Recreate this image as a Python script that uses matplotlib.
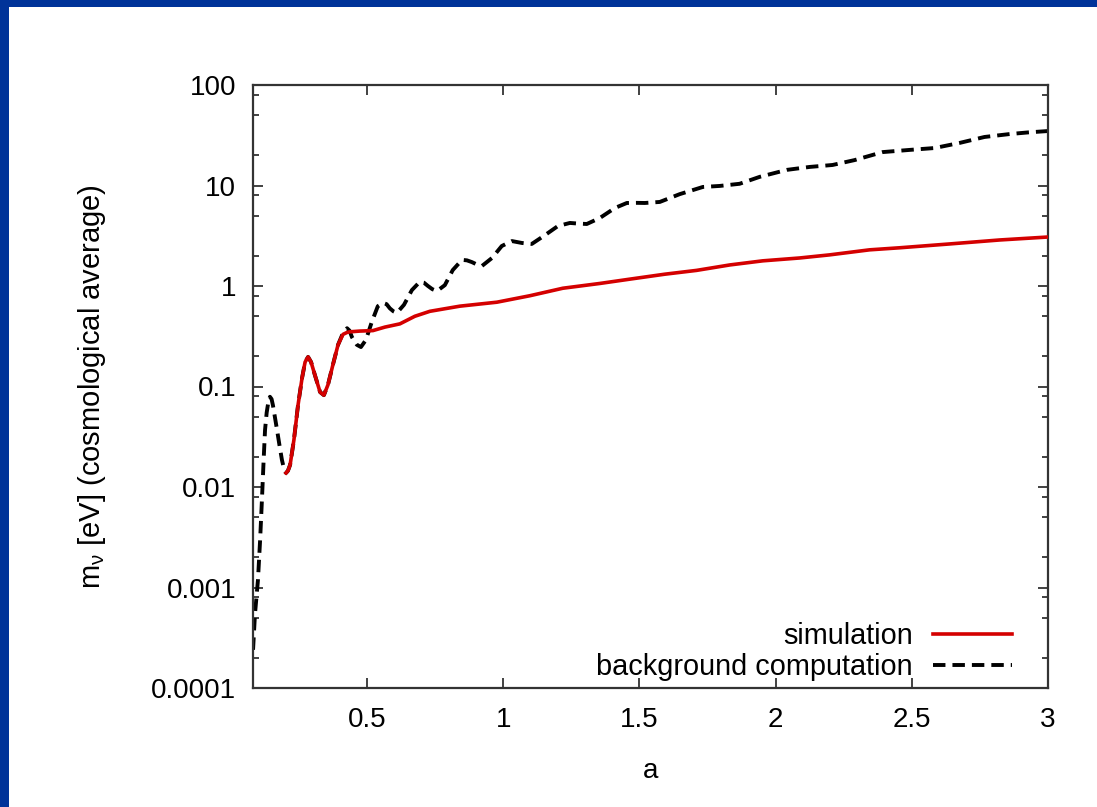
import matplotlib
matplotlib.use("Agg")
import matplotlib.pyplot as plt
from matplotlib.patches import Rectangle
from matplotlib.ticker import LogLocator, FixedLocator, NullFormatter, FixedFormatter

plt.rcParams['font.family'] = ['Liberation Sans', 'DejaVu Sans']
plt.rcParams['mathtext.fontset'] = 'custom'
plt.rcParams['mathtext.rm'] = 'Liberation Sans'
plt.rcParams['mathtext.it'] = 'Liberation Sans'
plt.rcParams['mathtext.sf'] = 'Liberation Sans'

# background computation (black dashed)
a_bg = [0.082, 0.089, 0.100, 0.108, 0.115, 0.121, 0.126, 0.132, 0.137, 0.144,
        0.150, 0.155, 0.162, 0.170, 0.179, 0.188, 0.196,
        0.203, 0.210, 0.218, 0.232, 0.247, 0.262, 0.273, 0.284, 0.295, 0.309, 0.328,
        0.342, 0.357, 0.375, 0.394, 0.412, 0.427, 0.436, 0.445, 0.463, 0.478, 0.496,
        0.518, 0.540, 0.559, 0.572, 0.584, 0.597, 0.610, 0.636, 0.665, 0.694, 0.709,
        0.724, 0.740, 0.757,
        0.786, 0.815, 0.849, 0.867, 0.885, 0.903, 0.922, 0.959, 0.995, 1.032, 1.069, 1.105,
        1.153, 1.201, 1.245, 1.275, 1.307, 1.355, 1.410, 1.454, 1.490, 1.520, 1.575, 1.648,
        1.733, 1.795, 1.868, 1.942, 2.041, 2.125, 2.209, 2.290, 2.393, 2.492,
        2.584, 2.675, 2.767, 2.859, 2.930, 2.998]
m_bg = [2.4e-4, 5.4e-4, 1.19e-3, 3.0e-3, 7.9e-3, 0.019, 0.037, 0.055, 0.067, 0.079,
        0.075, 0.065, 0.050, 0.037, 0.026, 0.0186, 0.0150,
        0.0138, 0.0145, 0.0166, 0.0294, 0.065, 0.122, 0.175, 0.197, 0.175, 0.13, 0.088,
        0.082, 0.104, 0.164, 0.26, 0.34, 0.38, 0.36, 0.31, 0.26, 0.247, 0.29,
        0.44, 0.63, 0.68, 0.66, 0.60, 0.56, 0.54, 0.65, 0.91, 1.10, 1.08,
        1.0, 0.93, 0.89,
        1.02, 1.44, 1.82, 1.80, 1.73, 1.64, 1.58, 1.90, 2.5, 2.8, 2.68, 2.62,
        3.2, 3.95, 4.24, 4.18, 4.14, 4.75, 5.97, 6.7, 6.72, 6.7, 6.86, 8.2,
        9.67, 9.9, 10.4, 12.2, 14.3, 15.3, 16.0, 17.9, 21.5, 22.6,
        23.6, 26.5, 30.4, 32.5, 33.8, 34.8]

# simulation (red solid)
a_sim = [0.203, 0.210, 0.218, 0.232, 0.247, 0.262, 0.273, 0.284, 0.295, 0.309, 0.328,
         0.342, 0.357, 0.375, 0.394, 0.412, 0.427, 0.437, 0.474, 0.522, 0.566,
         0.621, 0.676, 0.731, 0.841, 0.977, 1.098, 1.219, 1.355, 1.465, 1.593,
         1.710, 1.832, 1.953, 2.088, 2.198, 2.345, 2.455, 2.638, 2.822, 2.998]
m_sim = [0.0138, 0.0145, 0.0166, 0.0294, 0.065, 0.122, 0.175, 0.197, 0.175, 0.13, 0.088,
         0.082, 0.104, 0.164, 0.26, 0.33, 0.345, 0.35, 0.356, 0.36, 0.39,
         0.42, 0.50, 0.56, 0.63, 0.69, 0.80, 0.95, 1.06, 1.17, 1.31,
         1.43, 1.62, 1.78, 1.90, 2.04, 2.29, 2.40, 2.62, 2.87, 3.07]

x_ticks = [0.5, 1, 1.5, 2, 2.5, 3]
x_ticklabels = ["0.5", "1", "1.5", "2", "2.5", "3"]
y_ticks = [1e-4, 1e-3, 1e-2, 1e-1, 1, 10, 100]
y_ticklabels = ["0.0001", "0.001", "0.01", "0.1", "1", "10", "100"]

FS = 20

fig = plt.figure(figsize=(10.97, 8.07), dpi=100)
fig.patch.set_facecolor('white')
blue = '#003399'
fig.patches.append(Rectangle((0, 0), 9 / 1097, 1, transform=fig.transFigure,
                             facecolor=blue, edgecolor='none', zorder=0))
fig.patches.append(Rectangle((0, 1 - 7 / 807), 1, 7 / 807, transform=fig.transFigure,
                             facecolor=blue, edgecolor='none', zorder=0))

ax = fig.add_axes([253 / 1097, 1 - 688 / 807, (1048 - 253) / 1097, (688 - 85) / 807])
ax.set_yscale('log')
ax.set_xlim(0.0818, 3.0)
ax.set_ylim(1e-4, 100)

ax.plot(a_sim, m_sim, color='#d40000', lw=2.6, label='simulation', zorder=3,
        solid_joinstyle='round')
ax.plot(a_bg, m_bg, color='black', lw=2.8, dashes=(3.2, 1.8), label='background computation',
        zorder=2)

ax.xaxis.set_major_locator(FixedLocator(x_ticks))
ax.xaxis.set_major_formatter(FixedFormatter(x_ticklabels))
ax.yaxis.set_major_locator(FixedLocator(y_ticks))
ax.yaxis.set_major_formatter(FixedFormatter(y_ticklabels))
ax.yaxis.set_minor_locator(LogLocator(base=10, subs=(2, 5, 8)))
ax.yaxis.set_minor_formatter(NullFormatter())
ax.xaxis.set_minor_locator(FixedLocator([]))

for s in ax.spines.values():
    s.set_color('#333333')
    s.set_linewidth(1.6)

ax.tick_params(which='both', direction='in', top=True, right=True, color='#333333',
               labelsize=FS, width=1.3)
ax.tick_params(which='major', length=7)
ax.tick_params(which='minor', length=4)
ax.tick_params(axis='x', pad=14)
ax.tick_params(axis='y', pad=12)

ax.set_xlabel('a', fontsize=FS, labelpad=18)
ax.set_ylabel(r'm$_{\nu}$ [eV] (cosmological average)', fontsize=21)
ax.yaxis.set_label_coords(-0.182, 0.5)

leg = ax.legend(loc='lower right', markerfirst=False, frameon=False, fontsize=20.8,
                handlelength=2.74, handletextpad=0.69, labelspacing=0.1,
                borderaxespad=0.0, bbox_to_anchor=(0.969, -0.007))

fig.savefig('out.png', dpi=100, facecolor='white')
